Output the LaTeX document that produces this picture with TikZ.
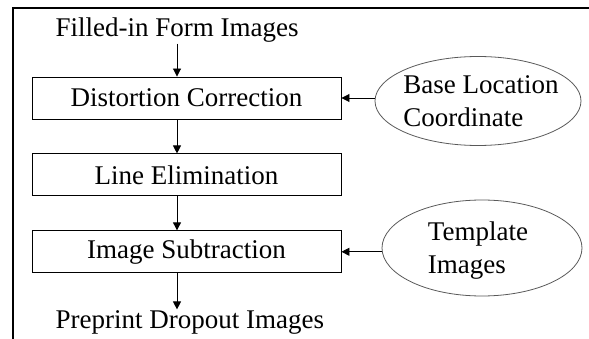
\documentclass[tikz,border=0pt]{standalone}
\usepackage{fontspec}
\setmainfont{Liberation Serif}
\usepackage{tikz}
\usetikzlibrary{arrows.meta,positioning,shapes.geometric}
\tikzset{
  stage/.style={rectangle,draw=black,line width=0.9pt,minimum width=309pt,minimum height=42pt,
    inner sep=0pt,align=center,font=\fontsize{27}{33}\selectfont},
  caption/.style={inner sep=0.5pt,font=\fontsize{27}{33}\selectfont},
  oval/.style={ellipse,draw=black!65,line width=0.8pt,inner sep=0pt},
  ovaltext/.style={inner sep=0pt,align=left,font=\fontsize{27}{33}\selectfont},
  arrow/.style={-{Triangle[length=8pt,width=8pt]},line width=0.9pt,draw=black},
  frame/.style={line width=1.8pt,draw=black}
}

\begin{document}
\begin{tikzpicture}[x=1pt,y=-1pt,node distance=34pt]
\useasboundingbox (0,0) rectangle (589,339);
\draw[frame] (13,339) -- (13,8) -- (589,8);
\coordinate (axis) at (177,0);
% main chain
\node[caption,anchor=base west] (input) at (55,37) {Filled-in Form Images};
\node[stage] (distort) at (186.5,98) {Distortion Correction};
\node[stage,below=of distort] (lineelim) {Line Elimination};
\node[stage,below=of lineelim] (subtract) {Image Subtraction};
\node[caption,anchor=base west] (output) at (55,328) {Preprint Dropout Images};
% side inputs
\node[oval,minimum width=206pt,minimum height=89pt] (baseloc) at (478,101) {};
\node[ovaltext] (baseloctext) at (481,101) {Base Location\\Coordinate};
\node[oval,minimum width=200pt,minimum height=96pt] (template) at (482,248) {};
\node[ovaltext] (templatetext) at (478,251) {Template\\Images};
\draw[arrow] (input.south -| axis) -- (distort.north -| axis);
\draw[arrow] (distort.south -| axis) -- (lineelim.north -| axis);
\draw[arrow] (lineelim.south -| axis) -- (subtract.north -| axis);
\draw[arrow] (subtract.south -| axis) -- (output.north -| axis);
\draw[arrow] (baseloc.west |- distort.east) -- (distort.east);
\draw[arrow] (template.west |- subtract.east) -- (subtract.east);
\end{tikzpicture}
\end{document}
